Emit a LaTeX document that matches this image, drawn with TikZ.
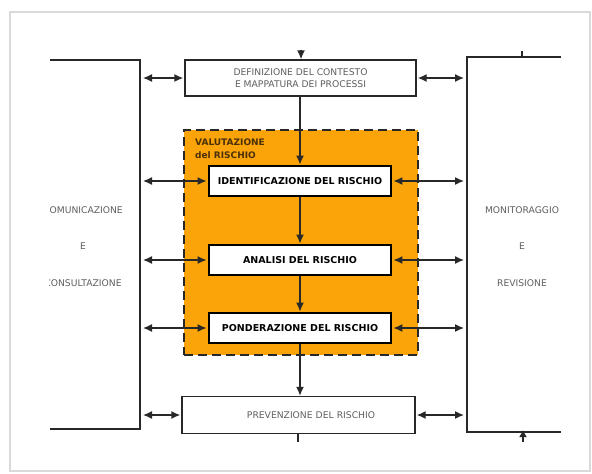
\documentclass[tikz,border=0pt]{standalone}
\usepackage{fontspec}
\setmainfont{DejaVu Sans}
\usetikzlibrary{arrows.meta}
\definecolor{orng}{RGB}{250,164,10}
\definecolor{txtgray}{RGB}{95,95,95}
\definecolor{linegray}{RGB}{40,40,40}
\definecolor{brn}{RGB}{75,48,8}
\begin{document}
\begin{tikzpicture}[x=1pt,y=-1pt,
 plainbox/.style={draw=linegray,line width=1.4pt,fill=white,text=txtgray,font=\fontsize{9.2}{11.5}\selectfont,align=center,inner sep=0pt},
 riskbox/.style={draw=black,line width=2.8pt,fill=white,font=\bfseries\fontsize{9.5}{11}\selectfont,inner sep=0pt,minimum width=182pt,minimum height=30pt},
 conn/.style={draw=linegray,line width=1.4pt},
 tip/.style={-{Latex[length=9pt,width=8pt]}},
 flow/.style={conn,tip},
 link/.style={conn,{Latex[length=9pt,width=8pt]}-{Latex[length=9pt,width=8pt]}},
 fromB/.style={shorten <=3pt,shorten >=1pt},
 toB/.style={shorten <=1pt,shorten >=3pt},
 side/.style={text=txtgray,font=\fontsize{9.2}{10}\selectfont,inner sep=0pt},
 bracket/.style={draw=linegray,line width=1.6pt}
]
\fill[white] (0,0) rectangle (592,474);
\draw[gray!30,line width=1.5pt] (10,12) rectangle (590,471);
\begin{scope}
\clip (49,0) rectangle (561,474);
% brackets
\coordinate (lt0) at (50,60);
\coordinate (lt) at (140,60);
\coordinate (lb) at (140,429);
\coordinate (lb0) at (50,429);
\coordinate (rt0) at (561,57);
\coordinate (rt) at (467,57);
\coordinate (rb) at (467,432);
\coordinate (rb0) at (561,432);
\draw[bracket] (lt0) -- (lt) -- (lb) -- (lb0);
\draw[bracket] (rt0) -- (rt) -- (rb) -- (rb0);
% side texts
\node[side] (com) at (83,210) {COMUNICAZIONE};
\node[side] (le) at (83,246) {E};
\node[side] (cons) at (83,283) {CONSULTAZIONE};
\node[side] (mon) at (522,210) {MONITORAGGIO};
\node[side] (re) at (522,246) {E};
\node[side] (rev) at (522,283) {REVISIONE};
% orange area
\node[fill=orng,draw=linegray,dash pattern=on 9pt off 5pt,line width=1.4pt,minimum width=234pt,minimum height=225pt,inner sep=0pt] (val) at (301,242.5) {};
\node[anchor=north west,align=left,inner sep=0pt,text=brn,font=\bfseries\fontsize{9}{12.5}\selectfont] (valt) at (195,139) {VALUTAZIONE\\del RISCHIO};
% boxes
\node[plainbox,minimum width=231pt,minimum height=36pt] (def) at (300.5,78) {DEFINIZIONE DEL CONTESTO\\E MAPPATURA DEI PROCESSI};
\node[riskbox] (ide) at (300,181) {IDENTIFICAZIONE DEL RISCHIO};
\node[riskbox] (ana) at (300,260) {ANALISI DEL RISCHIO};
\node[riskbox] (pon) at (300,328) {PONDERAZIONE DEL RISCHIO};
\node[plainbox,minimum width=233pt,minimum height=37pt,text width=233pt,align=center] (prev) at (298.5,415) {\hspace*{25pt}PREVENZIONE DEL RISCHIO};
% vertical flow
\draw[flow] (def.south -| ide.north) -- (ide.north);
\draw[flow] (ide) -- (ana);
\draw[flow] (ana) -- (pon);
\draw[flow] (pon.south) -- (prev.north -| pon.south);
% small marks
\coordinate (topin) at (301,50);
\draw[flow] (topin) -- (topin |- def.north);
\coordinate (botout) at (298,442);
\draw[conn] (prev.south -| botout) -- (botout);
\coordinate (rtick) at (522,51);
\draw[conn] (rtick) -- (rtick |- rt);
\coordinate (rbin) at (523,442);
\draw[conn,-{Latex[length=7pt,width=8pt]}] (rbin) -- ([yshift=2pt]rbin |- rb);
% links left
\draw[link,fromB] (lt |- def.west) -- (def.west);
\draw[link,fromB] (lt |- ide.west) -- (ide.west);
\draw[link,fromB] (lt |- ana.west) -- (ana.west);
\draw[link,fromB] (lt |- pon.west) -- (pon.west);
\draw[link,fromB] (lt |- prev.west) -- (prev.west);
% links right
\draw[link,toB] (def.east) -- (rt |- def.east);
\draw[link,toB] (ide.east) -- (rt |- ide.east);
\draw[link,toB] (ana.east) -- (rt |- ana.east);
\draw[link,toB] (pon.east) -- (rt |- pon.east);
\draw[link,toB] (prev.east) -- (rt |- prev.east);
\end{scope}
\useasboundingbox (0,0) rectangle (592,474);
\end{tikzpicture}
\end{document}
